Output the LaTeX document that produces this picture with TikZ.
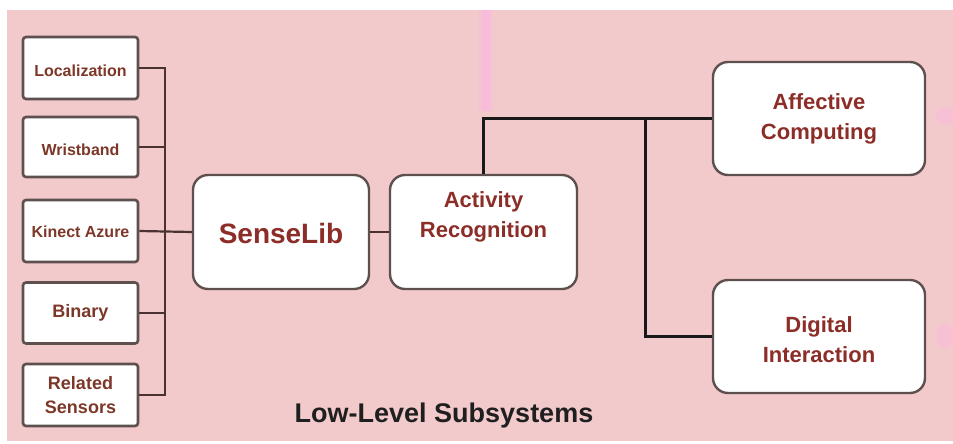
\documentclass[tikz,border=0pt]{standalone}
\usepackage{fontspec}
\setmainfont{Liberation Sans}
\usetikzlibrary{calc}
\definecolor{bgpink}{RGB}{243,202,203}
\definecolor{hotpink}{RGB}{250,185,222}
\definecolor{boxedge}{RGB}{95,80,80}
\definecolor{txtred}{RGB}{140,45,40}
\definecolor{txtbrown}{RGB}{125,55,40}
\definecolor{thinline}{RGB}{75,50,50}
\tikzset{
  smallbox/.style={draw=boxedge, line width=2.6pt, fill=white, rounded corners=3pt,
    minimum width=115pt, inner sep=0pt},
  bigbox/.style={draw=boxedge, line width=2.4pt, fill=white, rounded corners=15pt,
    inner sep=0pt},
  smalltxt/.style={text=txtbrown, font=\bfseries\fontsize{16}{22}\selectfont, align=center},
  largetxt/.style={text=txtbrown, font=\bfseries\fontsize{18}{24}\selectfont, align=center},
  bigtxt/.style={text=txtred, font=\bfseries\fontsize{22}{30}\selectfont, align=center},
  thin/.style={draw=thinline, line width=2.2pt},
  thick/.style={draw=black!90, line width=3pt},
}
\begin{document}
\begin{tikzpicture}[x=1pt,y=-1pt]
% canvas
\fill[white] (0,0) rectangle (953,444);
\useasboundingbox (0,0) rectangle (953,444);
\fill[bgpink] (7,10) rectangle (953,441);
\fill[hotpink, opacity=0.35] (478,10) rectangle (493,112);
\fill[hotpink, opacity=0.7] (482,10) rectangle (490,110);
\fill[hotpink, opacity=0.55] (945,116) ellipse (9pt and 9pt);
\fill[hotpink, opacity=0.55] (945,336) ellipse (9pt and 12pt);

% sensor boxes
\node[smallbox, minimum height=62pt] (loc) at (80.5,68) {};
\node[smallbox, minimum height=60pt] (wri) at (80.5,147) {};
\node[smallbox, minimum height=62pt] (kin) at (80.5,231) {};
\node[smallbox, minimum height=61pt] (bin) at (80.5,313) {};
\node[smallbox, minimum height=62pt] (rel) at (80.5,395) {};
\node[smalltxt] (loct) at (80.5,71) {Localization};
\node[smalltxt] (writ) at (80.5,150) {Wristband};
\node[smalltxt] (kint) at (80.5,232) {Kinect Azure};
\node[largetxt] (bint) at (80.5,313) {Binary};
\node[largetxt] (relt) at (80.5,395) {Related\\Sensors};

% main blocks
\node[bigbox, minimum width=176pt, minimum height=114pt] (sense) at (281,232) {};
\node[bigbox, minimum width=187pt, minimum height=114pt] (act) at (483.5,232) {};
\node[bigbox, minimum width=212pt, minimum height=113pt] (aff) at (819,118.5) {};
\node[bigbox, minimum width=212pt, minimum height=113pt] (dig) at (819,336.5) {};
\node[text=txtred, font=\bfseries\fontsize{28}{32}\selectfont] (senset) at (281,233) {SenseLib};
\node[bigtxt] (actt) at (483.5,217) {Activity\\Recognition};
\node[bigtxt] (afft) at (819,119) {Affective\\Computing};
\node[bigtxt] (digt) at (819,340) {Digital\\Interaction};

% caption
\node[text=black!88, font=\bfseries\fontsize{27}{30}\selectfont] (cap) at (444,416) {Low-Level Subsystems};

% sensor bus
\coordinate (bus) at (165,0);
\foreach \b in {loc,wri,bin,rel}
  \draw[thin] (\b.east) -- (\b.east -| bus);
\draw[thin, line cap=rect] (loc.east -| bus) -- (rel.east -| bus);
\draw[thin] (kin.east) -- (sense.west);
\draw[thin] (sense.east) -- (act.west);

% outputs of activity recognition
\coordinate (split) at (645,0);
\draw[thick] (act.north) |- (aff.west);
\draw[thick] (aff.west -| split) |- (dig.west);
\end{tikzpicture}
\end{document}
